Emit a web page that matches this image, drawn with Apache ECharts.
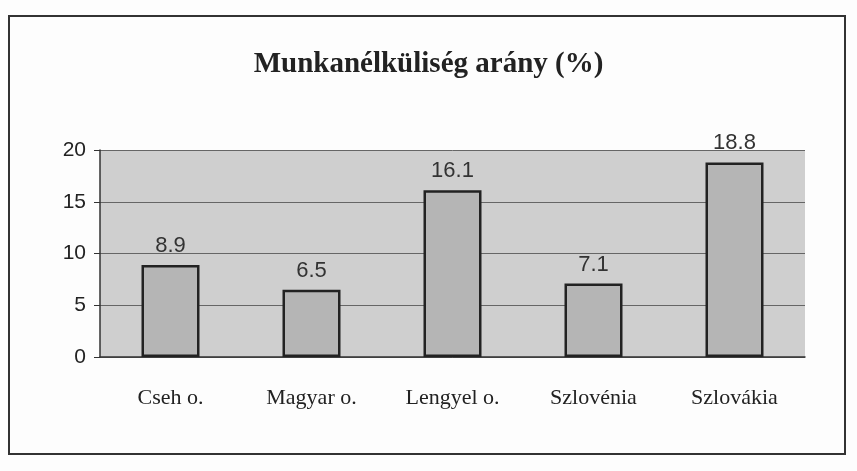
<!DOCTYPE html>
<html><head><meta charset="utf-8">
<script src="https://cdn.jsdelivr.net/npm/echarts@6/dist/echarts.min.js"></script>
<style>html,body{margin:0;padding:0;background:#fff}#c{width:857px;height:471px}</style>
</head><body><div id="c"></div>
<script>
const categories = ['Cseh o.', 'Magyar o.', 'Lengyel o.', 'Szlovénia', 'Szlovákia'];
const values = [8.9, 6.5, 16.1, 7.1, 18.8];
const yTicks = [0, 5, 10, 15, 20];
const chart = echarts.init(document.getElementById('c'));
chart.setOption({
  animation: false,
  backgroundColor: '#fdfdfd',
  graphic: [{type:'rect', shape:{x:9,y:16,width:836,height:438}, style:{fill:'none',stroke:'#333',lineWidth:2}}],
  title: {text:'Munkanélküliség arány (%)', left:'center', top:45,
    textStyle:{fontFamily:'Liberation Serif', fontWeight:'bold', fontSize:29, color:'#222'}},
  grid: {left:100, right:52, top:150, bottom:114, show:true, backgroundColor:'#cfcfcf', borderWidth:0},
  xAxis: {type:'category', data:categories,
    axisLine:{lineStyle:{color:'#333', width:1.5}}, axisTick:{show:false},
    axisLabel:{fontFamily:'Liberation Serif', fontSize:22, color:'#222', margin:30}},
  yAxis: {type:'value', min:0, max:20, interval:5,
    axisLine:{show:true, lineStyle:{color:'#333', width:1.5}},
    axisTick:{show:true, length:6, lineStyle:{color:'#333'}},
    splitLine:{lineStyle:{color:'#666', width:1}},
    axisLabel:{fontFamily:'Liberation Sans', fontSize:21, color:'#222', margin:14,
      formatter:v => yTicks.includes(v) ? String(v) : ''}},
  series: [{type:'bar', data:values, barWidth:58,
    itemStyle:{color:'#b5b5b5', borderColor:'#222', borderWidth:2.5},
    label:{show:true, position:'top', distance:8, fontFamily:'Liberation Sans', fontSize:22, color:'#333'}}]
});
</script></body></html>
